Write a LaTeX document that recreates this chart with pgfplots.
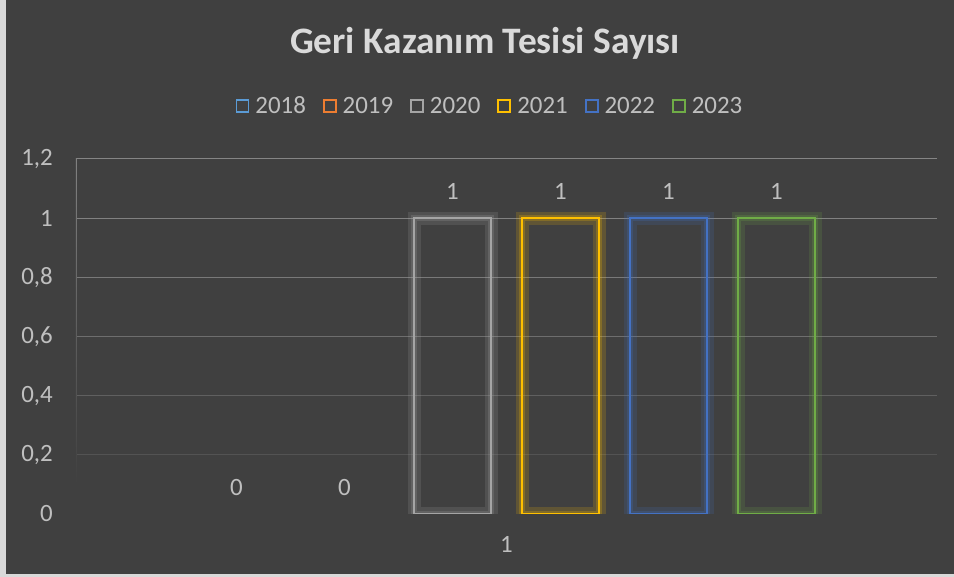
\documentclass[border=0pt]{standalone}
\usepackage{pgfplots}
\pgfplotsset{compat=1.18}
\usepackage{fontspec}
\setmainfont{Carlito}

\definecolor{bg}{HTML}{404040}
\definecolor{edge}{HTML}{D9D9D9}
\definecolor{titlec}{HTML}{DADADA}
\definecolor{txt}{HTML}{BFBFBF}
\definecolor{c2018}{HTML}{5B9BD5}
\definecolor{c2019}{HTML}{ED7D31}
\definecolor{c2020}{HTML}{A5A5A5}
\definecolor{c2021}{HTML}{FFC000}
\definecolor{c2022}{HTML}{4472C4}
\definecolor{c2023}{HTML}{70AD47}

\pgfplotsset{
  sq/.style={legend image code/.code={\draw[line width=1.8bp,#1] (0bp,-6bp) rectangle (12bp,6bp);}},
  bar/.style={draw=#1, fill=none, line width=2.2bp, sq=#1},
  glow/.style={forget plot, draw=#1, draw opacity=0.17, fill=none, line width=13bp},
  glowin/.style={forget plot, draw=#1, draw opacity=0.22, fill=none, line width=6bp},
}

\begin{document}
\begin{tikzpicture}[x=1bp,y=1bp]
\fill[bg] (0,0) rectangle (954,577);
\fill[edge] (0,0) rectangle (6,577);
\fill[edge] (0,0) rectangle (954,3);
\node[font=\bfseries\fontsize{37.5}{44}\selectfont, text=titlec, anchor=base] at (485,523) {Geri Kazanım Tesisi Sayısı};

\begin{axis}[
  at={(506.5bp,63bp)}, anchor=origin,
  scale only axis, width=861bp, height=355bp,
  xmin=-430.5, xmax=430.5, ymin=0, ymax=1.2,
  ybar, bar width=77,
  axis line style={draw=none},
  major tick length=0pt,
  xtick={0}, xticklabels={1},
  ytick={0,0.2,0.4,0.6,0.8,1,1.2},
  tick label style={font=\fontsize{25}{30}\selectfont, text=txt},
  yticklabel style={anchor=east, inner sep=0pt, xshift=-23bp},
  xticklabel style={anchor=north, inner sep=0pt, yshift=-22bp},
  /pgf/number format/.cd, fixed, use comma, precision=1, assume math mode=true,
  /pgfplots/.cd,
  nodes near coords,
  nodes near coords style={font=\fontsize{25}{30}\selectfont, text=txt, anchor=south, inner sep=0pt, yshift=18bp},
  legend style={at={(0.4808,1.149)}, anchor=center, draw=none, fill=none,
    text=txt, font=\fontsize{25}{30}\selectfont,
    /tikz/every odd column/.append style={column sep=4bp},
    /tikz/every even column/.append style={column sep=15bp}},
  legend columns=6,
]
% gridlines, fading downwards
\draw[color=white!36!bg, line width=1bp] (axis cs:-430.5,1.2) -- (axis cs:430.5,1.2);
\draw[color=white!34!bg, line width=1bp] (axis cs:-430.5,1) -- (axis cs:430.5,1);
\draw[color=white!30!bg, line width=1bp] (axis cs:-430.5,0.8) -- (axis cs:430.5,0.8);
\draw[color=white!24!bg, line width=1bp] (axis cs:-430.5,0.6) -- (axis cs:430.5,0.6);
\draw[color=white!17!bg, line width=1bp] (axis cs:-430.5,0.4) -- (axis cs:430.5,0.4);
\draw[color=white!10!bg, line width=1bp] (axis cs:-430.5,0.2) -- (axis cs:430.5,0.2);
\shade[top color=white!34!bg, bottom color=bg] (axis cs:-430.5,1.2) rectangle ([xshift=1bp]axis cs:-430.5,0.1);

% glow
\addplot[glow=c2020, bar shift=-54, nodes near coords=] coordinates {(0,1)};
\addplot[glow=c2021, bar shift=54, nodes near coords=] coordinates {(0,1)};
\addplot[glow=c2022, bar shift=162, nodes near coords=] coordinates {(0,1)};
\addplot[glow=c2023, bar shift=270, nodes near coords=] coordinates {(0,1)};
\addplot[glowin=c2020, bar shift=-54, nodes near coords=] coordinates {(0,1)};
\addplot[glowin=c2021, bar shift=54, nodes near coords=] coordinates {(0,1)};
\addplot[glowin=c2022, bar shift=162, nodes near coords=] coordinates {(0,1)};
\addplot[glowin=c2023, bar shift=270, nodes near coords=] coordinates {(0,1)};

\addplot[draw=none, fill=none, sq=c2018, bar shift=-270] coordinates {(0,0)};
\addplot[draw=none, fill=none, sq=c2019, bar shift=-162] coordinates {(0,0)};
\addplot[bar=c2020, bar shift=-54] coordinates {(0,1)};
\addplot[bar=c2021, bar shift=54] coordinates {(0,1)};
\addplot[bar=c2022, bar shift=162] coordinates {(0,1)};
\addplot[bar=c2023, bar shift=270] coordinates {(0,1)};
\legend{2018,2019,2020,2021,2022,2023}
\end{axis}
\end{tikzpicture}
\end{document}
